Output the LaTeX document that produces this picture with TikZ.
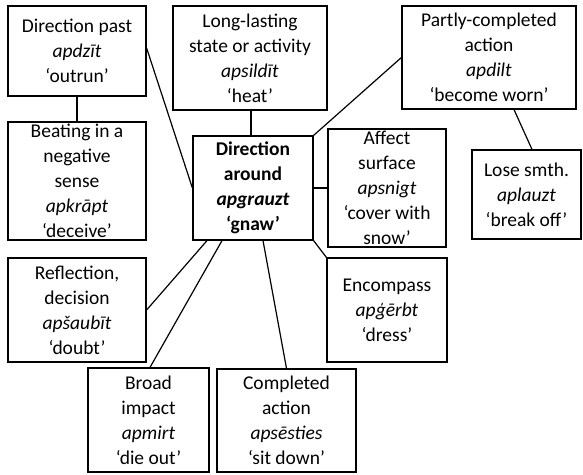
\documentclass[tikz,border=0pt]{standalone}
\usepackage{fontspec}
\setmainfont{Carlito}
\begin{document}
\begin{tikzpicture}[x=1pt,y=-1pt,
  box/.style={draw,line width=1.2pt,inner sep=0pt,align=center,
    font=\fontsize{19.5}{25}\selectfont},
  link/.style={line width=1.2pt}]
\useasboundingbox (0,0) rectangle (583,474);

% boxes
\node[box,minimum width=138pt,minimum height=90pt] (past) at (77,51)
  {Direction past\\\textit{apdzīt}\\‘outrun’};
\node[box,minimum width=138pt,minimum height=118pt] (beat) at (77,181)
  {Beating in a\\negative\\sense\\\textit{apkrāpt}\\‘deceive’};
\node[box,minimum width=154pt,minimum height=104pt] (long) at (250,58)
  {Long-lasting\\state or activity\\\textit{apsildīt}\\‘heat’};
\node[box,minimum width=120pt,minimum height=104pt] (cent) at (253,188)
  {\bfseries Direction\\\bfseries around\\\bfseries\itshape apgrauzt\\\bfseries ‘gnaw’};
\node[box,minimum width=174pt,minimum height=103pt] (part) at (489,57.5)
  {Partly-completed\\action\\\textit{apdilt}\\‘become worn’};
\node[box,minimum width=118pt,minimum height=118pt] (aff) at (387,188)
  {Affect\\surface\\\textit{apsnigt}\\‘cover with\\snow’};
\node[box,minimum width=109pt,minimum height=89pt] (lose) at (526.5,194.5)
  {Lose smth.\\\textit{aplauzt}\\‘break off’};
\node[box,minimum width=138pt,minimum height=104pt] (refl) at (77,310)
  {Reflection,\\decision\\\textit{apšaubīt}\\‘doubt’};
\node[box,minimum width=120pt,minimum height=104pt] (enc) at (387,310)
  {Encompass\\\textit{apģērbt}\\‘dress’};
\node[box,minimum width=121pt,minimum height=104pt] (broad) at (148.5,420)
  {Broad\\impact\\\textit{apmirt}\\‘die out’};
\node[box,minimum width=139pt,minimum height=103pt] (comp) at (286.5,420.5)
  {Completed\\action\\\textit{apsēsties}\\‘sit down’};

% connectors
\draw[link] (past.south) -- (beat.north);
\draw[link] ([yshift=3pt]past.east) -- (cent.west);
\draw[link] ([xshift=1pt]long.south) -- ([xshift=1pt]long.south |- cent.north);
\draw[link] (cent.north east) -- (part.west);
\draw[link] (cent.east) -- (aff.west);
\draw[link] ([xshift=25pt]part.south) -- ([xshift=5.5pt]lose.north);
\draw[link] ([xshift=-46pt]cent.south) -- (refl.east);
\draw[link] ([xshift=-31pt]cent.south) -- ([xshift=1.5pt]broad.north);
\draw[link] ([xshift=10pt]cent.south) -- (comp.north);
\draw[link] (cent.south east) -- (enc.north west);
\end{tikzpicture}
\end{document}
